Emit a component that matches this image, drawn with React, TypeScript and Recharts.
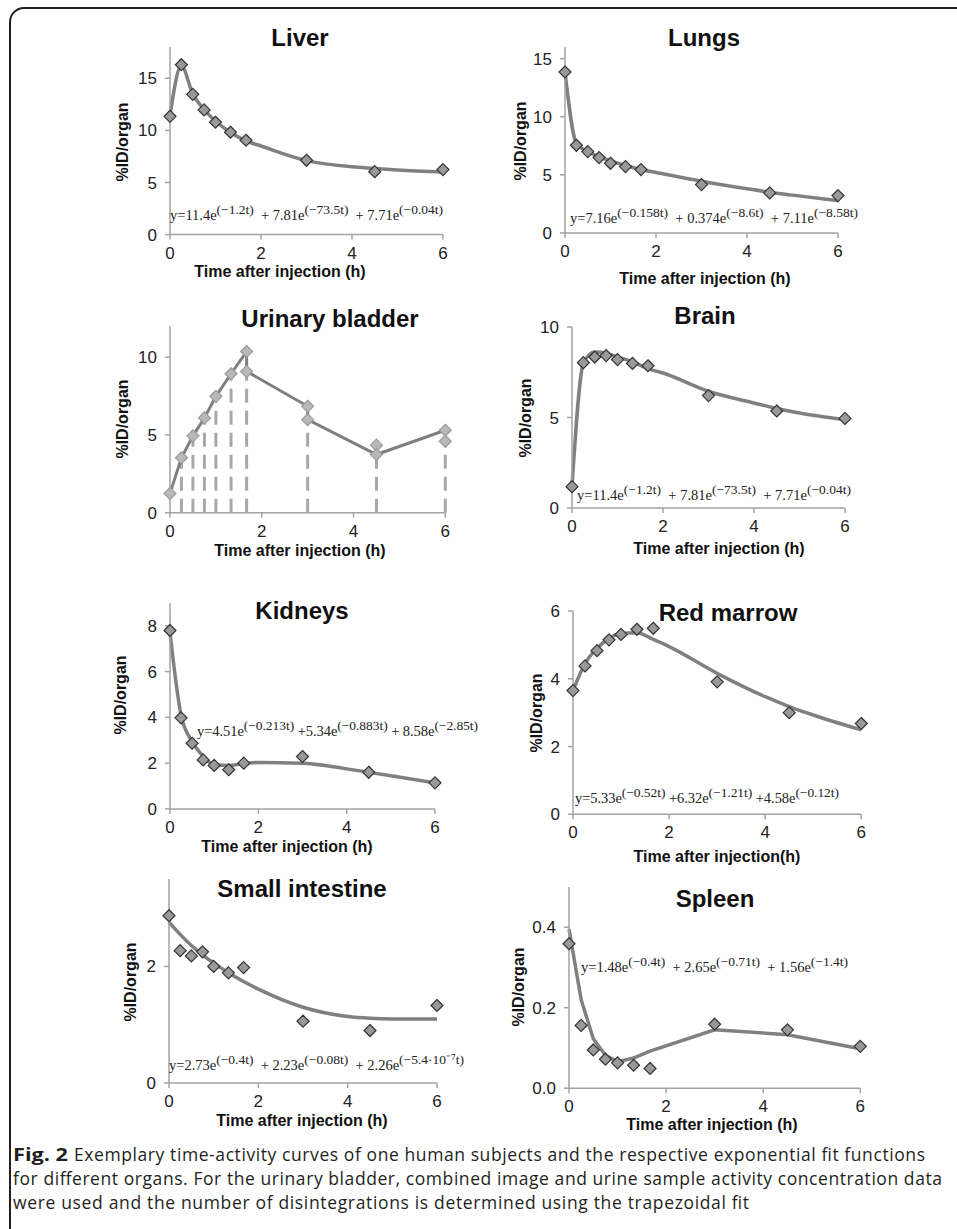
import React from 'react';
import { ComposedChart, Line, Scatter, XAxis, YAxis, ReferenceLine } from 'recharts';

const SANS = '"Liberation Sans", Arial, sans-serif';
const SERIF = '"Liberation Serif", "Times New Roman", serif';
const CAPTION = '"Open Sans", sans-serif';

// sampling times (h)
const times = [0, 0.25, 0.5, 0.75, 1, 1.33, 1.67, 3, 4.5, 6];
const xTicks = [0, 2, 4, 6];

// measured %ID/organ
const liverValues = [11.35, 16.3, 13.46, 11.96, 10.78, 9.82, 9.05, 7.13, 6.04, 6.24];
const lungsValues = [13.85, 7.54, 7.0, 6.48, 5.99, 5.71, 5.45, 4.16, 3.44, 3.21];
const brainValues = [1.18, 8.03, 8.34, 8.42, 8.2, 7.99, 7.86, 6.21, 5.36, 4.95];
const kidneysValues = [7.8, 3.98, 2.87, 2.14, 1.9, 1.71, 2.0, 2.29, 1.6, 1.14];
const marrowValues = [3.65, 4.38, 4.83, 5.15, 5.31, 5.46, 5.49, 3.91, 3.0, 2.68];
const intestineValues = [2.87, 2.27, 2.18, 2.25, 2.0, 1.89, 1.98, 1.06, 0.9, 1.33];
const spleenValues = [0.359, 0.156, 0.095, 0.072, 0.063, 0.057, 0.049, 0.159, 0.145, 0.104];

// fitted curves
const fitTimes = [0, 0.25, 0.5, 0.75, 1, 1.33, 1.67, 2, 3, 4, 4.5, 5, 6];
const liverFit = [11.4, 16.2, 13.5, 12.0, 10.9, 9.8, 9.0, 8.5, 7.1, 6.5, 6.35, 6.2, 6.0];
const lungsFit = [13.85, 7.7, 7.0, 6.55, 6.2, 5.8, 5.45, 5.2, 4.45, 3.8, 3.5, 3.25, 2.78];
const brainFit = [1.18, 8.0, 8.62, 8.55, 8.34, 8.08, 7.7, 7.46, 6.45, 5.8, 5.5, 5.25, 4.88];
const kidneysFit = [7.7, 4.1, 2.95, 2.3, 1.93, 1.9, 1.98, 2.03, 2.0, 1.75, 1.6, 1.45, 1.14];
const marrowFit = [3.65, 4.45, 4.9, 5.19, 5.34, 5.36, 5.16, 4.95, 4.16, 3.47, 3.18, 2.93, 2.49];
const intestineFit = [2.76, 2.55, 2.36, 2.2, 2.06, 1.89, 1.74, 1.61, 1.3, 1.14, 1.11, 1.1, 1.1];
const spleenFitTimes = [0, 0.25, 0.5, 0.75, 1, 1.33, 1.67, 3, 4.5, 6];
const spleenFit = [0.395, 0.22, 0.123, 0.082, 0.066, 0.075, 0.092, 0.145, 0.133, 0.098];

// urinary bladder: image + urine sample data, trapezoidal fit
const bladderLineTimes = [0, 0.25, 0.5, 0.75, 1, 1.33, 1.67, 1.67, 3, 3, 4.5, 6];
const bladderLineValues = [1.24, 3.53, 4.94, 6.09, 7.48, 8.93, 10.36, 9.08, 6.84, 5.98, 3.74, 5.3];
const bladderPointTimes = [0, 0.25, 0.5, 0.75, 1, 1.33, 1.67, 1.67, 3, 3, 4.5, 4.5, 6, 6];
const bladderPointValues = [1.24, 3.53, 4.94, 6.09, 7.48, 8.93, 10.36, 9.08, 6.84, 5.98, 4.34, 3.74, 5.3, 4.59];
const bladderDropTimes = [0.25, 0.5, 0.75, 1, 1.33, 1.67, 3, 4.5, 6];
const bladderDropValues = [3.53, 4.94, 6.09, 7.48, 8.93, 9.08, 5.98, 3.74, 4.59];

const pts = (ts: number[], vs: number[]) => ts.map((t, i) => ({ t, v: vs[i] }));

const Diamond = (props: any) => {
  const { cx, cy, fill, stroke } = props;
  if (cx == null || cy == null) return null;
  const r = 6;
  return (
    <polygon
      points={`${cx},${cy - r} ${cx + r},${cy} ${cx},${cy + r} ${cx - r},${cy}`}
      fill={fill}
      stroke={stroke}
      strokeWidth={1.2}
    />
  );
};

const AXIS = '#a3a3a3';

function Panel({ box, yMax, yTicks, fmt, children }: any) {
  const ML = 70, MT = 10, MR = 24, MB = 40;
  const left = box.x0 - ML;
  const top = box.yTop - MT;
  const width = box.x6 - box.x0 + ML + MR;
  const height = box.yB - box.yTop + MT + MB;
  const tick = { fontSize: 17, fill: '#222', fontFamily: SANS };
  return (
    <div style={{ position: 'absolute', left, top }}>
      <ComposedChart width={width} height={height} margin={{ top: MT, right: MR, bottom: 0, left: 0 }}>
        <XAxis
          type="number"
          dataKey="t"
          domain={[0, 6]}
          ticks={xTicks}
          height={MB}
          tick={tick}
          tickSize={5}
          tickMargin={7}
          stroke={AXIS}
          strokeWidth={1.5}
        />
        <YAxis
          type="number"
          dataKey="v"
          domain={[0, yMax]}
          ticks={yTicks}
          width={ML}
          tick={tick}
          tickSize={5}
          tickMargin={8}
          tickFormatter={fmt}
          stroke={AXIS}
          strokeWidth={1.5}
        />
        {children}
      </ComposedChart>
    </div>
  );
}

function fitPanel(box: any, yMax: number, yTicks: number[], fitT: number[], fit: number[], vals: number[], curve: any = 'monotone', fmt?: any) {
  return (
    <Panel box={box} yMax={yMax} yTicks={yTicks} fmt={fmt}>
      <Line
        data={pts(fitT, fit)}
        dataKey="v"
        type={curve}
        stroke="#808080"
        strokeWidth={3.5}
        dot={false}
        isAnimationActive={false}
      />
      <Scatter
        data={pts(times, vals)}
        fill="#999999"
        stroke="#333333"
        shape={Diamond}
        isAnimationActive={false}
      />
    </Panel>
  );
}

function Equation({ x, y, width, parts }: { x: number; y: number; width: number; parts: string[][] }) {
  const out: any[] = [];
  parts.forEach(([base, exp], i) => {
    out.push(<tspan key={'b' + i} dy={i === 0 ? 0 : 6} fontSize={14.5}>{base}</tspan>);
    out.push(<tspan key={'e' + i} dy={-6} fontSize={13.5}>{exp}</tspan>);
  });
  return (
    <text x={x} y={y} fontFamily={SERIF} fill="#222" textLength={width} lengthAdjust="spacing" style={{ whiteSpace: 'pre' }}>
      {out}
    </text>
  );
}

const Title = ({ x, y, text }: any) => (
  <text x={x} y={y} textAnchor="middle" dominantBaseline="central" fontFamily={SANS} fontWeight="bold" fontSize={24} fill="#111">{text}</text>
);
const YLabel = ({ x, y }: any) => (
  <text x={x} y={y} transform={`rotate(-90 ${x} ${y})`} textAnchor="middle" dominantBaseline="central" fontFamily={SANS} fontWeight="bold" fontSize={16} fill="#111">%ID/organ</text>
);
const XLabel = ({ x, y, text = 'Time after injection (h)' }: any) => (
  <text x={x} y={y} textAnchor="middle" dominantBaseline="central" fontFamily={SANS} fontWeight="bold" fontSize={16} fill="#111">{text}</text>
);

export default function App() {
  return (
    <div style={{ position: 'absolute', left: 0, top: 0, width: 957, height: 1229, background: '#fff', overflow: 'hidden' }}>
      {fitPanel({ x0: 170, x6: 443, yTop: 47.4, yB: 235 }, 18, [0, 5, 10, 15], fitTimes, liverFit, liverValues)}
      {fitPanel({ x0: 565.3, x6: 838.3, yTop: 47.4, yB: 233.3 }, 16, [0, 5, 10, 15], fitTimes, lungsFit, lungsValues)}

      <Panel box={{ x0: 170, x6: 445.3, yTop: 325.6, yB: 512.3 }} yMax={12} yTicks={[0, 5, 10]}>
        {bladderDropTimes.map((t, i) => (
          <ReferenceLine
            key={'d' + i}
            segment={[{ x: t, y: 0 }, { x: t, y: bladderDropValues[i] }]}
            stroke="#a8a8a8"
            strokeWidth={3}
            strokeDasharray="14 8"
          />
        ))}
        <Line
          data={pts(bladderLineTimes, bladderLineValues)}
          dataKey="v"
          type="linear"
          stroke="#7f7f7f"
          strokeWidth={3}
          dot={false}
          isAnimationActive={false}
        />
        <Scatter
          data={pts(bladderPointTimes, bladderPointValues)}
          fill="#b8b8b8"
          stroke="#9c9c9c"
          shape={Diamond}
          isAnimationActive={false}
        />
      </Panel>

      {fitPanel({ x0: 572, x6: 845, yTop: 327.3, yB: 508.3 }, 10, [0, 5, 10], fitTimes, brainFit, brainValues)}
      {fitPanel({ x0: 170, x6: 435, yTop: 603.1, yB: 809 }, 9, [0, 2, 4, 6, 8], fitTimes, kidneysFit, kidneysValues)}
      {fitPanel({ x0: 573, x6: 861.3, yTop: 611, yB: 814.3 }, 6, [0, 2, 4, 6], fitTimes, marrowFit, marrowValues)}
      {fitPanel({ x0: 169.3, x6: 437.3, yTop: 879.3, yB: 1083.3 }, 3.5, [0, 2], fitTimes, intestineFit, intestineValues)}
      {fitPanel({ x0: 569, x6: 860.3, yTop: 886.5, yB: 1087.7 }, 0.5, [0, 0.2, 0.4], spleenFitTimes, spleenFit, spleenValues, 'linear', (v: number) => v.toFixed(1))}

      <svg width={957} height={1229} style={{ position: 'absolute', left: 0, top: 0, pointerEvents: 'none' }}>
        <rect x={10} y={8} width={970} height={1240} rx={14} fill="none" stroke="#231f20" strokeWidth={2} />

        <Title x={300} y={37} text="Liver" />
        <Title x={704} y={37} text="Lungs" />
        <Title x={330} y={318} text="Urinary bladder" />
        <Title x={705} y={315} text="Brain" />
        <Title x={302} y={610} text="Kidneys" />
        <Title x={728} y={612} text="Red marrow" />
        <Title x={302} y={888} text="Small intestine" />
        <Title x={715} y={898} text="Spleen" />

        <YLabel x={122} y={142} />
        <YLabel x={520} y={141} />
        <YLabel x={122} y={419} />
        <YLabel x={525} y={418} />
        <YLabel x={120} y={695} />
        <YLabel x={536} y={713} />
        <YLabel x={130} y={982} />
        <YLabel x={518} y={987} />

        <XLabel x={280} y={271} />
        <XLabel x={705} y={278} />
        <XLabel x={300} y={550} />
        <XLabel x={719} y={548} />
        <XLabel x={287} y={846} />
        <XLabel x={717} y={856} text="Time after injection(h)" />
        <XLabel x={302} y={1120} />
        <XLabel x={712} y={1124} />

        <Equation x={170} y={220} width={273} parts={[['y=11.4e', '(−1.2t)'], ['  + 7.81e', '(−73.5t)'], ['  + 7.71e', '(−0.04t)']]} />
        <Equation x={570} y={223} width={288} parts={[['y=7.16e', '(−0.158t)'], ['  + 0.374e', '(−8.6t)'], ['  + 7.11e', '(−8.58t)']]} />
        <Equation x={577} y={500} width={274} parts={[['y=11.4e', '(−1.2t)'], ['  + 7.81e', '(−73.5t)'], ['  + 7.71e', '(−0.04t)']]} />
        <Equation x={197} y={736} width={281} parts={[['y=4.51e', '(−0.213t)'], [' +5.34e', '(−0.883t)'], [' + 8.58e', '(−2.85t)']]} />
        <Equation x={575} y={803} width={264} parts={[['y=5.33e', '(−0.52t)'], [' +6.32e', '(−1.21t)'], [' +4.58e', '(−0.12t)']]} />
        <Equation x={169} y={1070} width={295} parts={[['y=2.73e', '(−0.4t)'], ['  + 2.23e', '(−0.08t)'], ['  + 2.26e', '(−5.4·10⁻⁷t)']]} />
        <Equation x={581} y={972} width={267} parts={[['y=1.48e', '(−0.4t)'], ['  + 2.65e', '(−0.71t)'], ['  + 1.56e', '(−1.4t)']]} />

        <g fontFamily={CAPTION} fontSize={17.5} fill="#231f20">
          <text x={13} y={1160.5} fontWeight="bold" textLength={55} lengthAdjust="spacingAndGlyphs">Fig. 2</text>
          <text x={74} y={1160.5} textLength={851} lengthAdjust="spacing">Exemplary time-activity curves of one human subjects and the respective exponential fit functions</text>
          <text x={13} y={1184.5} textLength={929} lengthAdjust="spacing">for different organs. For the urinary bladder, combined image and urine sample activity concentration data</text>
          <text x={13} y={1208.5} textLength={736} lengthAdjust="spacing">were used and the number of disintegrations is determined using the trapezoidal fit</text>
        </g>
      </svg>
    </div>
  );
}
